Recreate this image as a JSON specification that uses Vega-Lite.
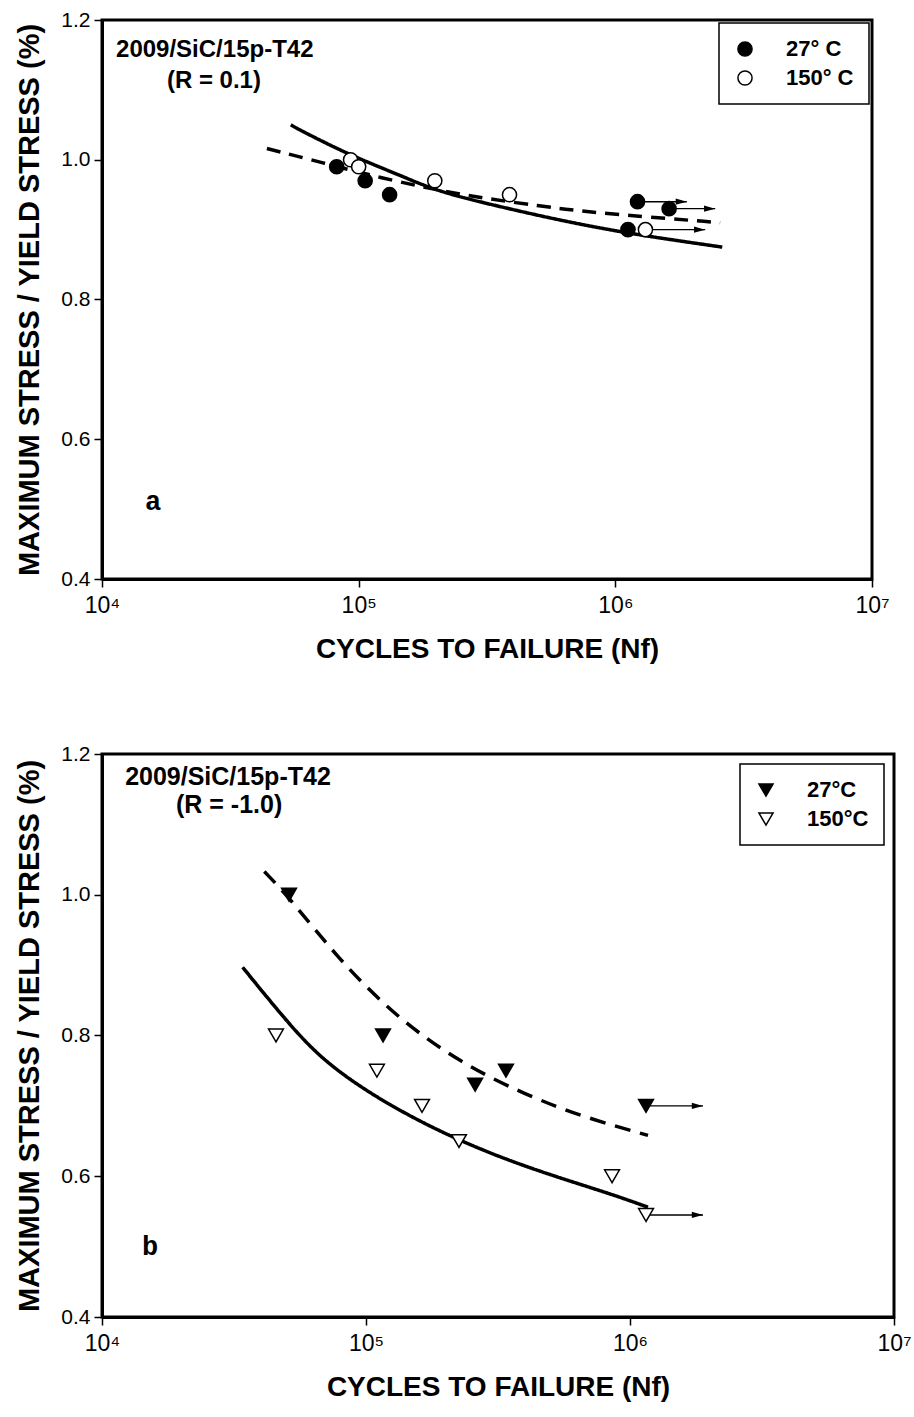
{
  "$schema": "https://vega.github.io/schema/vega-lite/v6.json",
  "background": "white",
  "padding": {"left": 14, "top": 7, "right": 10, "bottom": 10},
  "spacing": 76,
  "datasets": {
    "aPts": [
      {"N": 82100, "S": 0.99, "T": "27° C"},
      {"N": 106000, "S": 0.97, "T": "27° C"},
      {"N": 132000, "S": 0.95, "T": "27° C"},
      {"N": 1120000, "S": 0.90, "T": "27° C"},
      {"N": 1220000, "S": 0.94, "T": "27° C"},
      {"N": 1620000, "S": 0.93, "T": "27° C"},
      {"N": 93000, "S": 1.00, "T": "150° C"},
      {"N": 100000, "S": 0.99, "T": "150° C"},
      {"N": 198000, "S": 0.97, "T": "150° C"},
      {"N": 387000, "S": 0.95, "T": "150° C"},
      {"N": 1310000, "S": 0.90, "T": "150° C"}
    ],
    "aArrows": [
      {"N": 1220000, "N2": 1900000, "S": 0.94},
      {"N": 1620000, "N2": 2450000, "S": 0.93},
      {"N": 1310000, "N2": 2240000, "S": 0.90}
    ],
    "aCurves": [
      {"curve": "solid", "N": 54400, "S": 1.05},
      {"curve": "solid", "N": 57900, "S": 1.044},
      {"curve": "solid", "N": 90600, "S": 1.008},
      {"curve": "solid", "N": 142000, "S": 0.979},
      {"curve": "solid", "N": 191000, "S": 0.959},
      {"curve": "solid", "N": 258000, "S": 0.945},
      {"curve": "solid", "N": 405000, "S": 0.928},
      {"curve": "solid", "N": 634000, "S": 0.912},
      {"curve": "solid", "N": 1140000, "S": 0.894},
      {"curve": "solid", "N": 2610000, "S": 0.875},
      {"curve": "dashed", "N": 43900, "S": 1.016},
      {"curve": "dashed", "N": 73700, "S": 0.995},
      {"curve": "dashed", "N": 122000, "S": 0.974},
      {"curve": "dashed", "N": 200000, "S": 0.957},
      {"curve": "dashed", "N": 318000, "S": 0.944},
      {"curve": "dashed", "N": 506000, "S": 0.934},
      {"curve": "dashed", "N": 711000, "S": 0.927},
      {"curve": "dashed", "N": 1060000, "S": 0.921},
      {"curve": "dashed", "N": 2560000, "S": 0.910}
    ],
    "aText": [
      {"N": 27500, "S": 1.157, "label": "2009/SiC/15p-T42"},
      {"N": 27300, "S": 1.112, "label": "(R = 0.1)"}
    ],
    "aLetter": [{"N": 15800, "S": 0.51, "label": "a"}],
    "bPts": [
      {"N": 51100, "S": 1.0, "T": "27°C"},
      {"N": 116000, "S": 0.80, "T": "27°C"},
      {"N": 259000, "S": 0.73, "T": "27°C"},
      {"N": 339000, "S": 0.75, "T": "27°C"},
      {"N": 1150000, "S": 0.70, "T": "27°C"},
      {"N": 45600, "S": 0.80, "T": "150°C"},
      {"N": 110000, "S": 0.75, "T": "150°C"},
      {"N": 163000, "S": 0.70, "T": "150°C"},
      {"N": 225000, "S": 0.65, "T": "150°C"},
      {"N": 855000, "S": 0.60, "T": "150°C"},
      {"N": 1150000, "S": 0.545, "T": "150°C"}
    ],
    "bArrows": [
      {"N": 1150000, "N2": 1890000, "S": 0.70},
      {"N": 1150000, "N2": 1890000, "S": 0.545}
    ],
    "bCurves": [
      {"curve": "dashed", "N": 41200, "S": 1.033},
      {"curve": "dashed", "N": 51800, "S": 0.994},
      {"curve": "dashed", "N": 78000, "S": 0.910},
      {"curve": "dashed", "N": 130000, "S": 0.826},
      {"curve": "dashed", "N": 228000, "S": 0.761},
      {"curve": "dashed", "N": 400000, "S": 0.716},
      {"curve": "dashed", "N": 667000, "S": 0.684},
      {"curve": "dashed", "N": 1170000, "S": 0.658},
      {"curve": "solid", "N": 34100, "S": 0.897},
      {"curve": "solid", "N": 51800, "S": 0.813},
      {"curve": "solid", "N": 70400, "S": 0.761},
      {"curve": "solid", "N": 111000, "S": 0.710},
      {"curve": "solid", "N": 186000, "S": 0.665},
      {"curve": "solid", "N": 310000, "S": 0.629},
      {"curve": "solid", "N": 516000, "S": 0.600},
      {"curve": "solid", "N": 861000, "S": 0.574},
      {"curve": "solid", "N": 1170000, "S": 0.556}
    ],
    "bText": [
      {"N": 30000, "S": 1.168, "label": "2009/SiC/15p-T42"},
      {"N": 30300, "S": 1.127, "label": "(R = -1.0)"}
    ],
    "bLetter": [{"N": 15200, "S": 0.50, "label": "b"}]
  },
  "vconcat": [
    {
      "width": 770,
      "height": 559,
      "layer": [
        {
          "data": {"name": "aCurves"},
          "mark": {"type": "line", "color": "black", "strokeWidth": 3.5, "interpolate": "basis"},
          "encoding": {
            "x": {"field": "N", "type": "quantitative", "scale": {"type": "log", "domain": [10000, 10000000]}, "axis": {"values": [10000, 100000, 1000000, 10000000], "labelExpr": "'10' + ['⁰','¹','²','³','⁴','⁵','⁶','⁷'][round(log(datum.value)/LN10)]"}, "title": "CYCLES TO FAILURE (Nf)"},
            "y": {"field": "S", "type": "quantitative", "scale": {"domain": [0.4, 1.2]}, "axis": {"values": [0.4, 0.6, 0.8, 1.0, 1.2], "format": ".1f"}, "title": "MAXIMUM STRESS / YIELD STRESS (%)"},
            "detail": {"field": "curve"},
            "strokeDash": {"field": "curve", "type": "nominal", "scale": {"domain": ["solid", "dashed"], "range": [[1, 0], [14, 9]]}, "legend": null}
          }
        },
        {
          "data": {"name": "aArrows"},
          "mark": {"type": "rule", "color": "black", "strokeWidth": 1.4},
          "encoding": {
            "x": {"field": "N", "type": "quantitative", "title": "CYCLES TO FAILURE (Nf)"},
            "x2": {"field": "N2"},
            "y": {"field": "S", "type": "quantitative", "title": "MAXIMUM STRESS / YIELD STRESS (%)"}
          }
        },
        {
          "data": {"name": "aArrows"},
          "mark": {"type": "point", "shape": "M -1 -0.28 L 0 0 L -1 0.28 Z", "filled": true, "color": "black", "opacity": 1, "size": 500},
          "encoding": {
            "x": {"field": "N2", "type": "quantitative", "title": "CYCLES TO FAILURE (Nf)"},
            "y": {"field": "S", "type": "quantitative", "title": "MAXIMUM STRESS / YIELD STRESS (%)"}
          }
        },
        {
          "data": {"name": "aPts"},
          "mark": {"type": "point", "filled": true, "strokeWidth": 1.5, "opacity": 1, "size": 200},
          "encoding": {
            "x": {"field": "N", "type": "quantitative", "title": "CYCLES TO FAILURE (Nf)"},
            "y": {"field": "S", "type": "quantitative", "title": "MAXIMUM STRESS / YIELD STRESS (%)"},
            "shape": {"field": "T", "type": "nominal", "scale": {"domain": ["27° C", "150° C"], "range": ["circle", "circle"]}, "legend": {"title": null, "orient": "top-right", "offset": 3}},
            "fill": {"field": "T", "type": "nominal", "scale": {"domain": ["27° C", "150° C"], "range": ["black", "white"]}, "legend": {"title": null, "orient": "top-right", "offset": 3}},
            "stroke": {"field": "T", "type": "nominal", "scale": {"domain": ["27° C", "150° C"], "range": ["black", "black"]}, "legend": {"title": null, "orient": "top-right", "offset": 3}}
          }
        },
        {
          "data": {"name": "aText"},
          "mark": {"type": "text", "font": "Liberation Sans", "fontWeight": "bold", "fontSize": 24, "color": "black", "align": "center", "baseline": "middle"},
          "encoding": {
            "x": {"field": "N", "type": "quantitative", "title": "CYCLES TO FAILURE (Nf)"},
            "y": {"field": "S", "type": "quantitative", "title": "MAXIMUM STRESS / YIELD STRESS (%)"},
            "text": {"field": "label"}
          }
        },
        {
          "data": {"name": "aLetter"},
          "mark": {"type": "text", "font": "Liberation Mono", "fontWeight": "bold", "fontSize": 27, "color": "black", "align": "center", "baseline": "middle"},
          "encoding": {
            "x": {"field": "N", "type": "quantitative", "title": "CYCLES TO FAILURE (Nf)"},
            "y": {"field": "S", "type": "quantitative", "title": "MAXIMUM STRESS / YIELD STRESS (%)"},
            "text": {"field": "label"}
          }
        }
      ]
    },
    {
      "width": 792,
      "height": 563,
      "layer": [
        {
          "data": {"name": "bCurves"},
          "mark": {"type": "line", "color": "black", "strokeWidth": 3.5, "interpolate": "basis"},
          "encoding": {
            "x": {"field": "N", "type": "quantitative", "scale": {"type": "log", "domain": [10000, 10000000]}, "axis": {"values": [10000, 100000, 1000000, 10000000], "labelExpr": "'10' + ['⁰','¹','²','³','⁴','⁵','⁶','⁷'][round(log(datum.value)/LN10)]"}, "title": "CYCLES TO FAILURE (Nf)"},
            "y": {"field": "S", "type": "quantitative", "scale": {"domain": [0.4, 1.2]}, "axis": {"values": [0.4, 0.6, 0.8, 1.0, 1.2], "format": ".1f"}, "title": "MAXIMUM STRESS / YIELD STRESS (%)"},
            "detail": {"field": "curve"},
            "strokeDash": {"field": "curve", "type": "nominal", "scale": {"domain": ["solid", "dashed"], "range": [[1, 0], [16, 10]]}, "legend": null}
          }
        },
        {
          "data": {"name": "bArrows"},
          "mark": {"type": "rule", "color": "black", "strokeWidth": 1.4},
          "encoding": {
            "x": {"field": "N", "type": "quantitative", "title": "CYCLES TO FAILURE (Nf)"},
            "x2": {"field": "N2"},
            "y": {"field": "S", "type": "quantitative", "title": "MAXIMUM STRESS / YIELD STRESS (%)"}
          }
        },
        {
          "data": {"name": "bArrows"},
          "mark": {"type": "point", "shape": "M -1 -0.28 L 0 0 L -1 0.28 Z", "filled": true, "color": "black", "opacity": 1, "size": 500},
          "encoding": {
            "x": {"field": "N2", "type": "quantitative", "title": "CYCLES TO FAILURE (Nf)"},
            "y": {"field": "S", "type": "quantitative", "title": "MAXIMUM STRESS / YIELD STRESS (%)"}
          }
        },
        {
          "data": {"name": "bPts"},
          "mark": {"type": "point", "filled": true, "strokeWidth": 1.5, "opacity": 1, "size": 220},
          "encoding": {
            "x": {"field": "N", "type": "quantitative", "title": "CYCLES TO FAILURE (Nf)"},
            "y": {"field": "S", "type": "quantitative", "title": "MAXIMUM STRESS / YIELD STRESS (%)"},
            "shape": {"field": "T", "type": "nominal", "scale": {"domain": ["27°C", "150°C"], "range": ["triangle-down", "triangle-down"]}, "legend": {"title": null, "orient": "top-right", "offset": 10}},
            "fill": {"field": "T", "type": "nominal", "scale": {"domain": ["27°C", "150°C"], "range": ["black", "white"]}, "legend": {"title": null, "orient": "top-right", "offset": 10}},
            "stroke": {"field": "T", "type": "nominal", "scale": {"domain": ["27°C", "150°C"], "range": ["black", "black"]}, "legend": {"title": null, "orient": "top-right", "offset": 10}}
          }
        },
        {
          "data": {"name": "bText"},
          "mark": {"type": "text", "font": "Liberation Sans", "fontWeight": "bold", "fontSize": 25, "color": "black", "align": "center", "baseline": "middle"},
          "encoding": {
            "x": {"field": "N", "type": "quantitative", "title": "CYCLES TO FAILURE (Nf)"},
            "y": {"field": "S", "type": "quantitative", "title": "MAXIMUM STRESS / YIELD STRESS (%)"},
            "text": {"field": "label"}
          }
        },
        {
          "data": {"name": "bLetter"},
          "mark": {"type": "text", "font": "Liberation Mono", "fontWeight": "bold", "fontSize": 27, "color": "black", "align": "center", "baseline": "middle"},
          "encoding": {
            "x": {"field": "N", "type": "quantitative", "title": "CYCLES TO FAILURE (Nf)"},
            "y": {"field": "S", "type": "quantitative", "title": "MAXIMUM STRESS / YIELD STRESS (%)"},
            "text": {"field": "label"}
          }
        }
      ]
    }
  ],
  "resolve": {
    "scale": {"x": "independent", "y": "independent", "shape": "independent", "fill": "independent", "stroke": "independent", "strokeDash": "independent"},
    "legend": {"shape": "independent", "fill": "independent", "stroke": "independent"}
  },
  "config": {
    "font": "Liberation Sans",
    "view": {"stroke": "black", "strokeWidth": 3},
    "axis": {
      "grid": false,
      "domainColor": "black",
      "domainWidth": 3,
      "tickColor": "black",
      "tickWidth": 1.5,
      "tickSize": 8,
      "labelColor": "black",
      "labelFont": "Liberation Sans",
      "labelFontSize": 21,
      "labelFlush": false,
      "labelOverlap": false,
      "titleColor": "black",
      "titleFont": "Liberation Sans",
      "titleFontWeight": "bold"
    },
    "axisX": {"labelPadding": 7, "labelFontSize": 23, "titleFontSize": 28, "titlePadding": 18},
    "axisY": {"labelPadding": 4, "titleFontSize": 29, "titlePadding": 16},
    "legend": {
      "strokeColor": "black",
      "strokeWidth": 1.5,
      "fillColor": "white",
      "padding": 15,
      "labelFont": "Liberation Sans",
      "labelFontWeight": "bold",
      "labelFontSize": 22,
      "labelColor": "black",
      "symbolSize": 200,
      "symbolStrokeColor": "black",
      "symbolStrokeWidth": 1.5,
      "rowPadding": 7,
      "labelOffset": 30
    }
  }
}
